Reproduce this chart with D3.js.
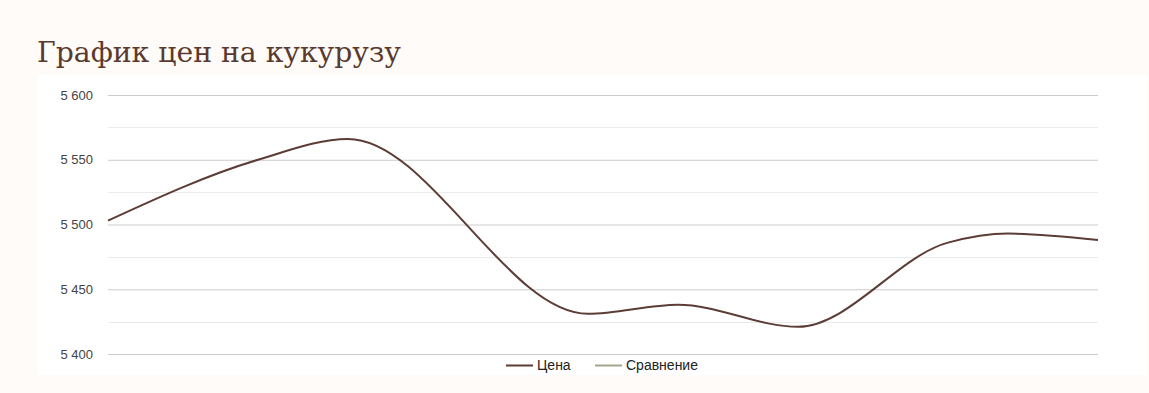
<!DOCTYPE html>
<html>
<head>
<meta charset="utf-8">
<script src="https://cdn.jsdelivr.net/npm/d3@7"></script>
<style>
  body { margin: 0; background: #fffbf8; }
  svg { display: block; }
</style>
</head>
<body>
<div id="chart"></div>
<script>
const width = 1149,
    height = 393

const colors = {
    bg: "#fffbf8",
    panel: "#ffffff",
    title: "#5a3a2f",
    price: "#5c3d36",
    compare: "#a4a48f",
    major: "#cccccc",
    minor: "#ebebeb",
    label: "#444444"
}

// day offsets and prices
const days = [0, 5, 8, 16, 19, 23, 28, 30, 33]
const prices = [5503, 5550, 5566, 5431, 5438, 5421, 5486, 5493, 5488]
const yTicks = [5400, 5450, 5500, 5550, 5600]
const legendLabels = ["Цена", "Сравнение"]

const svg = d3.select("#chart")
    .append("svg")
        .attr("width", width)
        .attr("height", height)

svg.append("rect")
    .attr("width", width).attr("height", height)
    .attr("fill", colors.bg)

svg.append("text")
    .attr("x", 37)
    .attr("y", 62)
    .attr("font-family", "'DejaVu Serif', serif")
    .attr("font-size", 27)
    .attr("fill", colors.title)
    .attr("textLength", 364)
    .attr("lengthAdjust", "spacingAndGlyphs")
    .text("График цен на кукурузу")

svg.append("rect")
    .attr("x", 38).attr("y", 75)
    .attr("width", 1109).attr("height", 300)
    .attr("fill", colors.panel)

const x = d3.scaleLinear()
    .domain([d3.min(days), d3.max(days)])
    .range([108, 1098])

const y = d3.scaleLinear()
    .domain([5400, 5600])
    .range([354, 95])

// minor grid
const minor = d3.range(5425, 5600, 50)
svg.append("g")
    .selectAll("line")
    .data(minor)
    .enter()
    .append("line")
        .attr("x1", 108).attr("x2", 1098)
        .attr("y1", d => Math.round(y(d)) + 0.5)
        .attr("y2", d => Math.round(y(d)) + 0.5)
        .attr("stroke", colors.minor)

const yAxis = d3.axisLeft(y)
    .tickValues(yTicks)
    .tickSize(-990)
    .tickPadding(15)
    .tickFormat(d => d3.format(",")(d).replace(",", " "))

const gy = svg.append("g")
    .attr("transform", "translate(108,0)")
    .call(yAxis)
gy.select(".domain").remove()
gy.selectAll(".tick line").attr("stroke", colors.major)
gy.selectAll(".tick text")
    .attr("font-family", "'Liberation Sans', Arial, sans-serif")
    .attr("font-size", 13)
    .attr("fill", colors.label)

const line = d3.line()
    .x((d, i) => x(days[i]))
    .y(d => y(d))
    .curve(d3.curveMonotoneX)

svg.append("path")
    .datum(prices)
    .attr("d", line)
    .attr("fill", "none")
    .attr("stroke", colors.price)
    .attr("stroke-width", 2)

// legend
const legend = svg.append("g")
    .attr("font-family", "'Liberation Sans', Arial, sans-serif")
    .attr("font-size", 14)
const legendX = [506, 595]
const legendColors = [colors.price, colors.compare]
legendLabels.forEach((name, i) => {
    legend.append("line")
        .attr("x1", legendX[i]).attr("x2", legendX[i] + 27)
        .attr("y1", 365.5).attr("y2", 365.5)
        .attr("stroke", legendColors[i])
        .attr("stroke-width", 2)
    legend.append("text")
        .attr("x", legendX[i] + 31)
        .attr("y", 370)
        .attr("fill", "#222")
        .text(name)
})
</script>
</body>
</html>
